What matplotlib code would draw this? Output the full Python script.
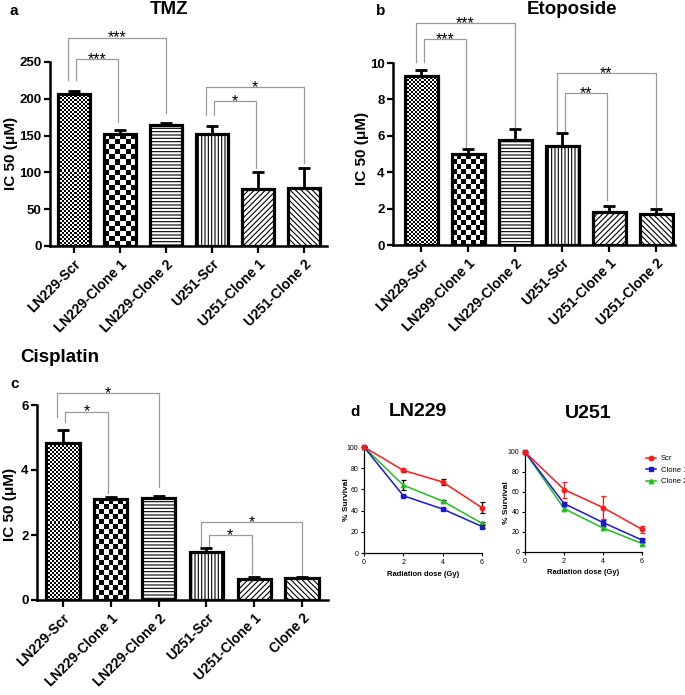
import numpy as np
import matplotlib
matplotlib.use('Agg')
import matplotlib.pyplot as plt
from matplotlib.lines import Line2D

plt.rcParams['font.family'] = ['Liberation Sans', 'DejaVu Sans']
plt.rcParams['hatch.linewidth'] = 0.8
plt.rcParams['hatch.color'] = 'black'

# ---------------- data ----------------
cats_a = ["LN229-Scr", "LN229-Clone 1", "LN229-Clone 2", "U251-Scr", "U251-Clone 1", "U251-Clone 2"]
tmz_mean = [207, 152, 165, 152, 77, 79]
tmz_err = [3, 6, 2, 11, 23, 27]
# brackets: (i, j, top, left_end, right_end, label)
tmz_brackets = [(0, 2, 283, 225, 181, '***', 'outer'), (0, 1, 254, 225, 168, '***', 'inner'),
                (3, 5, 216, 178, 113, '*', 'outer'), (3, 4, 197, 178, 106, '*', 'inner')]

cats_b = ["LN229-Scr", "LN299-Clone 1", "LN229-Clone 2", "U251-Scr", "U251-Clone 1", "U251-Clone 2"]
eto_mean = [9.3, 5.0, 5.75, 5.45, 1.8, 1.7]
eto_err = [0.3, 0.3, 0.65, 0.7, 0.35, 0.3]
eto_brackets = [(0, 2, 12.2, 10.06, 6.5, '***', 'outer'), (0, 1, 11.3, 10.06, 5.4, '***', 'inner'),
                (3, 5, 9.45, 6.15, 2.1, '**', 'outer'), (3, 4, 8.35, 6.15, 2.5, '**', 'inner')]

cats_c = ["LN229-Scr", "LN229-Clone 1", "LN229-Clone 2", "U251-Scr", "U251-Clone 1", "Clone 2"]
cis_mean = [4.83, 3.1, 3.13, 1.48, 0.65, 0.67]
cis_err = [0.4, 0.07, 0.07, 0.12, 0.05, 0.05]
cis_brackets = [(0, 2, 6.37, 5.64, 3.48, '*', 'outer'), (0, 1, 5.8, 5.48, 3.3, '*', 'inner'),
                (3, 5, 2.4, 1.63, 0.77, '*', 'outer'), (3, 4, 2.0, 1.63, 0.8, '*', 'inner')]

dose = [0, 2, 4, 6]
series_names = ["Scr", "Clone 1", "Clone 2"]
ln229_vals = [[100, 78, 67, 42.7], [100, 54, 41.5, 25], [100, 64, 49, 28]]
ln229_errs = [[0, 1.5, 3, 5], [0, 1, 1, 1], [0, 4.7, 1, 1]]
u251_vals = [[100, 62.5, 44.5, 22.7], [100, 48.5, 29.5, 12], [100, 43.5, 24, 8.5]]
u251_errs = [[0, 8, 11.5, 3.5], [0, 1.5, 3, 1.5], [0, 1.5, 1.5, 1]]

# ---------------- style ----------------
FILLS = ['fine', 'coarse', '-----', '|||||', '//////', '\\\\\\\\\\\\']
LINE_COLORS = ['#ff1a1a', '#1a1acc', '#1fbf1f']
MARKERS = ['o', 's', '^']

W, H = 685, 695
fig = plt.figure(figsize=(W / 100, H / 100), dpi=100)


def px_axes(left, right, top, bottom):
    return fig.add_axes([left / W, 1 - bottom / H, (right - left) / W, (bottom - top) / H])


def ftext(x, y, s, **kw):
    fig.text(x / W, 1 - y / H, s, **kw)


def checker(ax, bar, cell):
    bb = bar.get_window_extent()
    nx = max(1, int(round(bb.width / cell)))
    ny = max(1, int(round(bb.height / cell)))
    pat = np.indices((ny, nx)).sum(axis=0) % 2
    x0, y0 = bar.get_x(), bar.get_y()
    im = ax.imshow(pat, cmap='gray_r', vmin=0, vmax=1, interpolation='nearest',
                   extent=(x0, x0 + bar.get_width(), y0, y0 + bar.get_height()),
                   aspect='auto', zorder=2.1)
    im.set_clip_path(bar)


def bar_panel(ax, cats, means, errs, ymax, ystep, brackets, xlim, star_fs=11.5):
    x = np.arange(len(cats))
    ax.set_xlim(*xlim)
    ax.set_ylim(0, ymax)
    bars = ax.bar(x, means, width=0.7, color='white', edgecolor='none', zorder=2)
    ax.errorbar(x, means, yerr=[np.zeros(len(x)), errs], fmt='none', ecolor='black',
                elinewidth=2, capsize=4.5, capthick=2, zorder=1.5)
    for b, f in zip(bars, FILLS):
        if f == 'fine':
            checker(ax, b, 2.0)
        elif f == 'coarse':
            checker(ax, b, 5.0)
        else:
            b.set_hatch(f)
            b.set_edgecolor('black')
            b.set_linewidth(0)
    ax.bar(x, means, width=0.7, fill=False, edgecolor='black', linewidth=2.3, zorder=3)
    ax.set_xlim(*xlim)
    ax.set_ylim(0, ymax)
    for sp in ['top', 'right']:
        ax.spines[sp].set_visible(False)
    for sp in ['left', 'bottom']:
        ax.spines[sp].set_linewidth(1.8)
    ax.set_yticks(np.arange(0, ymax + ystep / 2, ystep))
    ax.set_xticks(x)
    ax.set_xticklabels(cats, rotation=45, ha='right', rotation_mode='anchor',
                       fontweight='bold', fontsize=10)
    for lab in ax.get_yticklabels():
        lab.set_fontweight('bold')
    ax.tick_params(axis='y', labelsize=9.5, length=4, width=1.6, pad=2)
    ax.tick_params(axis='x', length=5, width=1.6, pad=3)
    for (i, j, top, lend, rend, lab, kind) in brackets:
        xl = i - 0.12 if kind == 'outer' else i + 0.05
        xr = j + 0.0 if kind == 'outer' else j - 0.05
        ax.plot([xl, xl, xr, xr], [lend, top, top, rend], color='#9a9a9a', lw=0.9,
                clip_on=False, zorder=1)
        ax.annotate(lab, xy=((xl + xr) / 2, top), xytext=(0, -3.5), textcoords='offset points',
                    ha='center', va='baseline', fontsize=star_fs, annotation_clip=False)


# ---- panel a ----
ax_a = px_axes(50, 327, 62, 246)
bar_panel(ax_a, cats_a, tmz_mean, tmz_err, 250, 50, tmz_brackets, (-0.52, 5.5))
ftext(14, 11, 'a', fontsize=11, fontweight='bold', ha='center', va='center')
ftext(169, 9, 'TMZ', fontsize=13.5, fontweight='bold', ha='center', va='center')
ftext(11, 153, 'IC 50 (\u03bcM)', fontsize=11, fontweight='bold', rotation=90, ha='center', va='center')

# ---- panel b ----
ax_b = px_axes(393, 675, 63, 245)
bar_panel(ax_b, cats_b, eto_mean, eto_err, 10, 2, eto_brackets, (-0.6, 5.4))
ftext(381, 11, 'b', fontsize=11, fontweight='bold', ha='center', va='center')
ftext(572, 9, 'Etoposide', fontsize=13.5, fontweight='bold', ha='center', va='center')
ftext(362, 148, 'IC 50 (\u03bcM)', fontsize=11, fontweight='bold', rotation=90, ha='center', va='center')

# ---- panel c ----
ax_c = px_axes(37, 328, 405, 600)
bar_panel(ax_c, cats_c, cis_mean, cis_err, 6, 2, cis_brackets, (-0.54, 5.54))
ftext(15, 384, 'c', fontsize=11, fontweight='bold', ha='center', va='center')
ftext(60, 358, 'Cisplatin', fontsize=13.5, fontweight='bold', ha='center', va='center')
ftext(10, 504, 'IC 50 (\u03bcM)', fontsize=11, fontweight='bold', rotation=90, ha='center', va='center')


# ---- panel d ----
def line_panel(ax, vals, errs, err_black):
    for k, (v, e) in enumerate(zip(vals, errs)):
        ecol = 'black' if err_black else LINE_COLORS[k]
        ax.errorbar(dose, v, yerr=e, fmt='none', ecolor=ecol, elinewidth=0.9, capsize=1.8,
                    capthick=0.9, clip_on=False, zorder=2 + k * 0.1)
        ax.plot(dose, v, color=LINE_COLORS[k], marker=MARKERS[k], markersize=3.2, lw=1.1,
                clip_on=False, zorder=3 - k * 0.1, label=series_names[k])
    ax.set_xlim(0, 6)
    ax.set_ylim(0, 100)
    ax.set_xticks(dose)
    ax.set_yticks(np.arange(0, 101, 20))
    for sp in ['top', 'right']:
        ax.spines[sp].set_visible(False)
    for sp in ['left', 'bottom']:
        ax.spines[sp].set_linewidth(0.9)
    ax.tick_params(labelsize=5, length=2.5, width=0.8, pad=1.5)


ax_d1 = px_axes(364, 482, 447, 553)
line_panel(ax_d1, ln229_vals, ln229_errs, True)
ax_d2 = px_axes(525, 642, 452, 552)
line_panel(ax_d2, u251_vals, u251_errs, False)

ftext(355, 412, 'd', fontsize=11, fontweight='bold', ha='center', va='center')
ftext(418, 412, 'LN229', fontsize=14, fontweight='bold', ha='center', va='center')
ftext(588, 413, 'U251', fontsize=14, fontweight='bold', ha='center', va='center')
ftext(423, 574, 'Radiation dose (Gy)', fontsize=5.5, fontweight='bold', ha='center', va='center')
ftext(583, 572, 'Radiation dose (Gy)', fontsize=5.5, fontweight='bold', ha='center', va='center')
ftext(346, 500, '% Survival', fontsize=6, fontweight='bold', rotation=90, ha='center', va='center')
ftext(507, 503, '% Survival', fontsize=6, fontweight='bold', rotation=90, ha='center', va='center')

handles = [Line2D([], [], color=LINE_COLORS[k], marker=MARKERS[k], markersize=3.2, lw=1.1)
           for k in range(3)]
fig.legend(handles, series_names, loc='upper left', bbox_to_anchor=(646 / W, 1 - 455 / H),
           frameon=False, fontsize=5.5, handlelength=1.3, handletextpad=0.6,
           labelspacing=0.55, borderpad=0, borderaxespad=0)

fig.savefig('out.png', dpi=100)
